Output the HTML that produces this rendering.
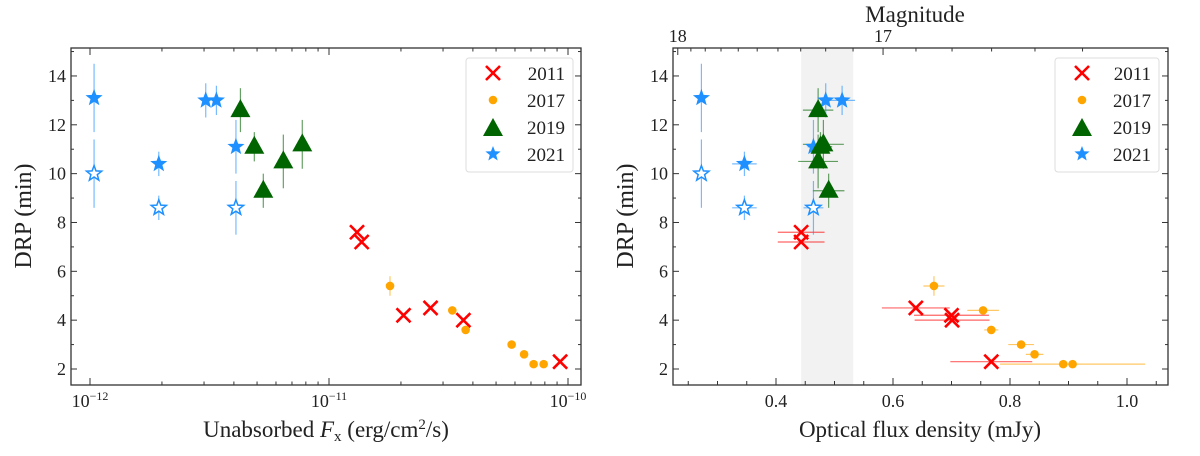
<!DOCTYPE html>
<html><head><meta charset="utf-8"><style>
html,body{margin:0;padding:0;background:#fff;}
text{font-family:"Liberation Serif","DejaVu Serif",serif !important;fill:#222;}
</style></head><body>
<svg id="fig" width="1200" height="451" xmlns="http://www.w3.org/2000/svg" font-family="Liberation Serif, serif">
<g id="L"></g>
<g id="R"></g>
</svg>
<script>
// ---- Data: left panel (X-ray flux, DRP) ----
const L2011x=[1.31e-11,1.37e-11,2.05e-11,2.66e-11,3.65e-11,9.27e-11];
const L2011y=[7.6,7.2,4.2,4.5,4.0,2.3];
const L2017x=[1.80e-11,3.28e-11,3.73e-11,5.81e-11,6.55e-11,7.18e-11,7.91e-11];
const L2017y=[5.4,4.4,3.6,3.0,2.6,2.2,2.2];
const L2017e=[0.4,0,0,0,0,0,0];
const L2019x=[4.26e-12,4.87e-12,5.31e-12,6.44e-12,7.73e-12];
const L2019y=[12.6,11.1,9.3,10.5,11.2];
const L2019lo=[11.7,10.5,8.6,9.4,10.2];
const L2019hi=[13.5,11.7,10.0,11.6,12.2];
const L2021x=[1.04e-12,3.05e-12,3.38e-12,4.08e-12,1.94e-12];
const L2021y=[13.1,13.0,13.0,11.1,10.4];
const L2021e=[1.4,0.7,0.6,1.1,0.5];
const L2021ox=[1.04e-12,1.94e-12,4.08e-12];
const L2021oy=[10.0,8.6,8.6];
const L2021oe=[1.4,0.5,1.1];
// ---- Data: right panel (optical flux, DRP) ----
const R2011x=[0.443,0.443,0.639,0.700,0.701,0.768];
const R2011y=[7.6,7.2,4.5,4.2,4.0,2.3];
const R2011xe=[0.04,0.04,0.058,0.064,0.064,0.07];
const R2017x=[0.670,0.754,0.768,0.819,0.842,0.891,0.907];
const R2017y=[5.4,4.4,3.6,3.0,2.6,2.2,2.2];
const R2017xe=[0.018,0.027,0.012,0.022,0.015,0.0,0.124];
const R2017ye=[0.4,0,0,0,0,0,0];
const R2019x=[0.472,0.481,0.476,0.472,0.490];
const R2019y=[12.6,11.2,11.1,10.5,9.3];
const R2019xe=[0.026,0.035,0.02,0.034,0.027];
const R2019ye=[0.9,1.0,0.6,1.1,0.7];
const R2021x=[0.2725,0.346,0.485,0.513,0.464];
const R2021y=[13.1,10.4,13.0,13.0,11.1];
const R2021xe=[0,0.021,0.008,0.022,0.01];
const R2021ye=[1.4,0.5,0.7,0.6,1.1];
const R2021ox=[0.2725,0.346,0.464];
const R2021oy=[10.0,8.6,8.6];
const R2021oxe=[0,0.021,0.017];
const R2021oye=[1.4,0.5,1.1];
const yTicks=[2,4,6,8,10,12,14];
const rxTicks=[0.4,0.6,0.8,1.0];
const magTicks=[18,17];

const NS="http://www.w3.org/2000/svg";
function mk(p,tag,at,txt){const e=document.createElementNS(NS,tag);for(const k in at)e.setAttribute(k,at[k]);if(tag==="text")e.setAttribute("font-family","Liberation Serif, serif");if(txt!==undefined)e.textContent=txt;p.appendChild(e);return e;}
const B=385,Y0=369,YS=24.42;
const yS=v=>Y0-(v-2)*YS;
const lx0=71,lx1=581; const lX=v=>90+(Math.log10(v)+12)*239;
const rx0=673,rx1=1168; const rX=v=>776+(v-0.4)*585;
const RED="#ff0000",ORG="#ffa500",GRN="#006400",BLU="#1e90ff";
function star(g,cx,cy,r,fill,stroke){let pts=[];for(let i=0;i<10;i++){const a=-Math.PI/2+i*Math.PI/5;const rr=i%2?r*0.42:r;pts.push((cx+rr*Math.cos(a)).toFixed(1)+","+(cy+rr*Math.sin(a)).toFixed(1));}
 return mk(g,"polygon",{points:pts.join(" "),fill:fill,stroke:stroke,"stroke-width":fill==="#fff"?1.5:0});}
function cross(g,cx,cy){const s=7;const gg=mk(g,"g",{stroke:RED,"stroke-width":2.6});mk(gg,"line",{x1:cx-s,y1:cy-s,x2:cx+s,y2:cy+s});mk(gg,"line",{x1:cx-s,y1:cy+s,x2:cx+s,y2:cy-s});return gg;}
function tri(g,cx,cy){return mk(g,"polygon",{points:`${cx},${cy-11} ${cx-10},${cy+7} ${cx+10},${cy+7}`,fill:GRN});}
function dot(g,cx,cy){return mk(g,"circle",{cx:cx,cy:cy,r:4.3,fill:ORG});}
function vbar(g,x,y1,y2,c){if(y1!==y2)mk(g,"line",{x1:x,x2:x,y1:y1,y2:y2,stroke:c,"stroke-width":1.2,opacity:0.6});}
function hbar(g,y,x1,x2,c){if(x1!==x2)mk(g,"line",{x1:x1,x2:x2,y1:y,y2:y,stroke:c,"stroke-width":1.2,opacity:0.6});}

function frame(g,x0,x1){
 mk(g,"rect",{x:x0,y:48,width:x1-x0,height:B-48,fill:"none",stroke:"#333","stroke-width":1.3});
 for(let v=2;v<=15;v++){const y=yS(v);const len=v%2?3:6;
  mk(g,"line",{x1:x0,x2:x0+len,y1:y,y2:y,stroke:"#333"});mk(g,"line",{x1:x1,x2:x1-len,y1:y,y2:y,stroke:"#333"});}
 yTicks.forEach(v=>{const t=mk(g,"text",{x:x0-5,y:yS(v)+6,"font-size":18,"text-anchor":"end"},v);
  
  });
 const yl=mk(g,"text",{x:0,y:0,"font-size":24,"text-anchor":"middle",transform:`translate(${x0-40},216) rotate(-90)`},"DRP (min)");
 
 
}
function legend(g,x,w){
 const lg=mk(g,"g",{});
 
 
 mk(lg,"rect",{x:x,y:58,width:w,height:114,rx:3,fill:"#fff",stroke:"#ddd"});
 const rows=[["2011",cross],["2017",dot],["2019",tri],["2021",(gg,a,b)=>star(gg,a,b,8,BLU,BLU)]];
 rows.forEach((r,i)=>{const yy=73+i*27;const e=mk(lg,"g",{});
  
  
  r[1](e,x+27,yy+(r[0]==="2019"?2:0));mk(e,"text",{x:x+w-8,y:yy+7,"font-size":19,"text-anchor":"end"},r[0]);});
}

// ---- Left panel ----
const gL=document.getElementById("L");
frame(gL,lx0,lx1);
for(let d=-12;d<=-10;d++){for(let m=1;m<10;m++){const v=m*Math.pow(10,d);const x=lX(v);if(x<lx0||x>lx1)continue;const len=m===1?7:3.5;
 mk(gL,"line",{x1:x,x2:x,y1:B,y2:B-len,stroke:"#333"});mk(gL,"line",{x1:x,x2:x,y1:48,y2:48+len,stroke:"#333"});}}
[-12,-11,-10].forEach(d=>{const t=mk(gL,"text",{x:lX(Math.pow(10,d)),y:407,"font-size":18,"text-anchor":"middle"});
 
 
 t.innerHTML=`10<tspan dy="-7" font-size="12">${d===-12?"−12":d===-11?"−11":"−10"}</tspan>`;});
const xlL=mk(gL,"text",{x:326,y:437,"font-size":23,"text-anchor":"middle"});


xlL.innerHTML='Unabsorbed <tspan font-style="italic">F</tspan><tspan font-size="15" dy="4">x</tspan><tspan dy="-4"> (erg/cm</tspan><tspan font-size="15" dy="-8">2</tspan><tspan dy="8">/s)</tspan>';
const mL=mk(gL,"g",{});
L2021x.forEach((v,i)=>{vbar(mL,lX(v),yS(L2021y[i]-L2021e[i]),yS(L2021y[i]+L2021e[i]),BLU);});
L2021ox.forEach((v,i)=>{vbar(mL,lX(v),yS(L2021oy[i]-L2021oe[i]),yS(L2021oy[i]+L2021oe[i]),BLU);});
L2019x.forEach((v,i)=>{vbar(mL,lX(v),yS(L2019lo[i]),yS(L2019hi[i]),GRN);});
L2017x.forEach((v,i)=>{vbar(mL,lX(v),yS(L2017y[i]-L2017e[i]),yS(L2017y[i]+L2017e[i]),ORG);});
L2021x.forEach((v,i)=>{const e=star(mL,lX(v),yS(L2021y[i]),9,BLU,BLU);
 
 });
L2021ox.forEach((v,i)=>{const e=star(mL,lX(v),yS(L2021oy[i]),8,"#fff",BLU);
 
 });
L2019x.forEach((v,i)=>{const e=tri(mL,lX(v),yS(L2019y[i]));
 
 });
L2011x.forEach((v,i)=>{const e=cross(mL,lX(v),yS(L2011y[i]));
 
 });
L2017x.forEach((v,i)=>{const e=dot(mL,lX(v),yS(L2017y[i]));
 
 });
legend(gL,466,107);

// ---- Right panel ----
const gR=document.getElementById("R");
const band=mk(gR,"rect",{x:rX(0.443),y:48,width:rX(0.532)-rX(0.443),height:B-48,fill:"#f2f2f2"});


frame(gR,rx0,rx1);
for(let k=5;k<=21;k++){const x=rX(k*0.05);if(x<rx0||x>rx1)continue;
 mk(gR,"line",{x1:x,x2:x,y1:B,y2:B-4,stroke:"#333"});}
rxTicks.forEach(v=>{mk(gR,"line",{x1:rX(v),x2:rX(v),y1:B,y2:B-7,stroke:"#333"});
 const t=mk(gR,"text",{x:rX(v),y:407,"font-size":18,"text-anchor":"middle"},v.toFixed(1));
 
 });
const magF=m=>0.583*Math.pow(10,-0.4*(m-17));
for(let m=16.5;m<=18.3;m+=0.1){const x=rX(magF(m));if(x<rx0||x>rx1)continue;const maj=Math.abs(m-Math.round(m))<0.01;
 mk(gR,"line",{x1:x,x2:x,y1:48,y2:48+(maj?7:3.5),stroke:"#333"});}
magTicks.forEach(m=>{const t=mk(gR,"text",{x:rX(magF(m)),y:42,"font-size":18,"text-anchor":"middle"},m);
 
 });
const mt=mk(gR,"text",{x:915,y:22,"font-size":23,"text-anchor":"middle"},"Magnitude");


const xlR=mk(gR,"text",{x:920,y:437,"font-size":23,"text-anchor":"middle"},"Optical flux density (mJy)");


const mR=mk(gR,"g",{});
function eb(xs,ys,xe,ye,c){xs.forEach((v,i)=>{const x=rX(v),y=yS(ys[i]);
 hbar(mR,y,rX(v-xe[i]),rX(v+xe[i]),c);vbar(mR,x,yS(ys[i]-ye[i]),yS(ys[i]+ye[i]),c);});}
eb(R2011x,R2011y,R2011xe,R2011x.map(()=>0),RED);
eb(R2017x,R2017y,R2017xe,R2017ye,ORG);
eb(R2019x,R2019y,R2019xe,R2019ye,GRN);
eb(R2021x,R2021y,R2021xe,R2021ye,BLU);
eb(R2021ox,R2021oy,R2021oxe,R2021oye,BLU);
R2021x.forEach((v,i)=>{const e=star(mR,rX(v),yS(R2021y[i]),9,BLU,BLU);
 
 });
R2021ox.forEach((v,i)=>{const e=star(mR,rX(v),yS(R2021oy[i]),8,"#fff",BLU);
 
 });
R2019x.forEach((v,i)=>{const e=tri(mR,rX(v),yS(R2019y[i]));
 
 });
R2011x.forEach((v,i)=>{const e=cross(mR,rX(v),yS(R2011y[i]));
 
 });
R2017x.forEach((v,i)=>{const e=dot(mR,rX(v),yS(R2017y[i]));
 
 });
legend(gR,1055,104);
</script>
</body></html>
